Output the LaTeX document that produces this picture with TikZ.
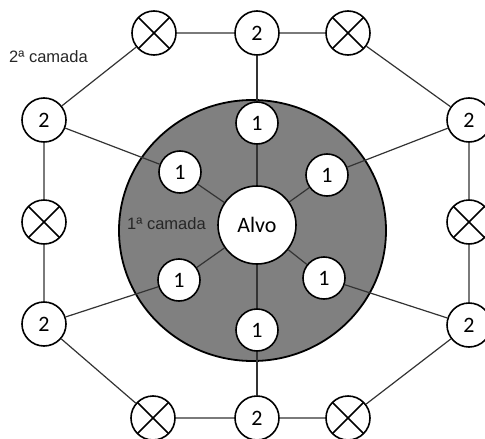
\documentclass[tikz,border=0pt]{standalone}
\usepackage{fontspec}
\setmainfont{Carlito}
\newfontfamily\labelfont{Liberation Sans}
\begin{document}
\begin{tikzpicture}[x=1pt,y=-1pt,
  inner/.style={circle,draw,fill=white,line width=1.6pt,inner sep=0pt,minimum size=42pt,font=\fontsize{22}{22}\selectfont},
  outer/.style={circle,draw,fill=white,line width=1.6pt,inner sep=0pt,minimum size=44pt,font=\fontsize{22}{22}\selectfont},
  blocked/.style={outer,path picture={
      \draw[line width=1.6pt] (path picture bounding box.north west) -- (path picture bounding box.south east);
      \draw[line width=1.6pt] (path picture bounding box.north east) -- (path picture bounding box.south west);}},
  target/.style={circle,draw,fill=white,line width=1.6pt,inner sep=0pt,minimum size=78pt,font=\fontsize{22}{22}\selectfont},
  link/.style={line width=1.2pt,black!80},
  layer/.style={font=\labelfont\fontsize{16.5}{17}\selectfont,text=black!85}]
\useasboundingbox (0,0) rectangle (485,439);
\clip (0,0) rectangle (485,439);

% first layer disc
\coordinate (disc) at (252.5,230.5);
\draw[fill=black!50,line width=1.8pt] (disc) ellipse [x radius=133.5pt, y radius=130.5pt];

% target and first-layer nodes
\node[target] (alvo) at (257,225) {Alvo};

\node[inner] (n1t)  at (257,123) {1};
\node[inner] (n1ul) at (180,172) {1};
\node[inner] (n1ur) at (327,175) {1};
\node[inner] (n1ll) at (179,280) {1};
\node[inner] (n1lr) at (324,278) {1};
\node[inner] (n1b)  at (257,330) {1};

% second layer
\node[outer]   (n2t)  at (257,33) {2};
\node[blocked] (xtl)  at (154,33) {};
\node[blocked] (xtr)  at (348,33) {};
\node[outer]   (n2ul) at (44,120) {2};
\node[outer]   (n2ur) at (469,120) {2};
\node[blocked] (xl)   at (44,222) {};
\node[blocked] (xr)   at (469,222) {};
\node[outer]   (n2ll) at (44,324) {2};
\node[outer]   (n2lr) at (469,325) {2};
\node[blocked] (xbl)  at (153,418) {};
\node[outer]   (n2b)  at (257,418) {2};
\node[blocked] (xbr)  at (348,418) {};

% ring of the second layer
\draw[link] (n2t) -- (xtl) -- (n2ul) -- (xl) -- (n2ll) -- (xbl) -- (n2b) -- (xbr) -- (n2lr) -- (xr) -- (n2ur) -- (xtr) -- (n2t);

% spokes
\foreach \a/\b in {n1t/n2t,n1ul/n2ul,n1ur/n2ur,n1ll/n2ll,n1lr/n2lr,n1b/n2b}{
  \draw[link] (alvo) -- (\a) -- (\b);
}

% layer labels
\node[layer] (lab2) at (48.5,57) {2ª camada};
\node[layer] (lab1) at (166.5,224) {1ª camada};
\end{tikzpicture}
\end{document}
